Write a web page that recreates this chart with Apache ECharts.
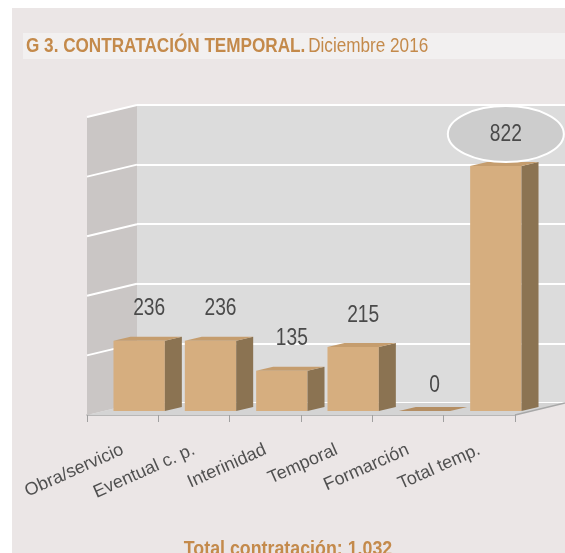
<!DOCTYPE html>
<html>
<head>
<meta charset="utf-8">
<script src="https://cdn.jsdelivr.net/npm/echarts@6/dist/echarts.min.js"></script>
<style>
  html, body { margin: 0; padding: 0; background: #ffffff; }
  #wrap { position: relative; width: 565px; height: 553px; overflow: hidden; }
  #panel { position: absolute; left: 12px; top: 8px; right: 0; bottom: 0; background: #ebe6e6; }
  #chart { position: absolute; left: 0; top: 0; width: 565px; height: 553px; }
</style>
</head>
<body>
<div id="wrap">
  <div id="panel"></div>
  <div id="chart"></div>
</div>
<script>
// datos del gráfico
const categories = ['Obra/servicio', 'Eventual c. p.', 'Interinidad', 'Temporal', 'Formarción', 'Total temp.'];
const values = [236, 236, 135, 215, 0, 822];
const yMax = 1000;
const yStep = 200;
const highlightIndex = 5; // la barra del total lleva la elipse

// profundidad del efecto 3D (px)
const DX = 50, DY = -12;
const T0 = 0.33, T1 = 0.67;

const chart = echarts.init(document.getElementById('chart'));

function renderWalls(params, api) {
    const cs = params.coordSys;
    const L = cs.x, R = cs.x + cs.width;
    const y0 = api.coord([0, 0])[1];
    const yTop = api.coord([0, yMax])[1];
    const children = [];
    // pared izquierda
    children.push({
        type: 'polygon',
        shape: { points: [[L, yTop], [L + DX, yTop + DY], [L + DX, y0 + DY], [L, y0]] },
        style: { fill: '#cac6c5' }
    });
    for (let v = yStep; v <= yMax; v += yStep) {
        const y = api.coord([0, v])[1];
        children.push({
            type: 'line',
            shape: { x1: L, y1: y, x2: L + DX, y2: y + DY },
            style: { stroke: '#ffffff', lineWidth: 2 }
        });
    }
    // suelo
    children.push({
        type: 'polygon',
        shape: { points: [[L, y0], [R, y0], [R + DX, y0 + DY], [L + DX, y0 + DY]] },
        style: { fill: '#d4d4d4' }
    });
    children.push({
        type: 'line',
        shape: { x1: R, y1: y0, x2: R + DX, y2: y0 + DY },
        style: { stroke: '#a8a8a8', lineWidth: 1.5 }
    });
    return { type: 'group', children: children };
}

function renderBar(params, api) {
    const i = api.value(0);
    const v = api.value(1);
    const base = api.coord([i, 0]);
    const top = api.coord([i, v]);
    const band = api.size([1, 0])[0];
    const w = band * 0.72;
    const ox = DX * T0, oy = DY * T0;
    const dx = DX * (T1 - T0), dy = DY * (T1 - T0);
    const x0 = base[0] - w / 2 + ox;
    const x1 = x0 + w;
    const yb = base[1] + oy;
    const yt = top[1] + oy;
    const children = [];
    if (yb - yt > 0.5) {
        children.push({
            type: 'rect',
            shape: { x: x0, y: yt, width: w, height: yb - yt },
            style: { fill: '#d6ae7f' }
        });
        children.push({
            type: 'polygon',
            shape: { points: [[x1, yt], [x1 + dx, yt + dy], [x1 + dx, yb + dy], [x1, yb]] },
            style: { fill: '#8b7352' }
        });
    }
    children.push({
        type: 'polygon',
        shape: { points: [[x0, yt], [x1, yt], [x1 + dx, yt + dy], [x0 + dx, yt + dy]] },
        style: { fill: yb - yt > 0.5 ? '#c59d6e' : '#b48e63' }
    });
    const lx = x0 + w / 2 + 10;
    const ly = yt - (v > 0 ? 32 : 26);
    if (params.dataIndex === highlightIndex) {
        children.push({
            type: 'path',
            shape: {
                pathData: 'M0,1 A1,1 0 1,0 2,1 A1,1 0 1,0 0,1 Z',
                x: lx - 58, y: ly - 28, width: 116, height: 56, layout: 'cover'
            },
            style: { fill: '#cdcdcd', stroke: '#ffffff', lineWidth: 2 }
        });
    }
    children.push({
        type: 'text',
        x: lx, y: ly, scaleX: 0.8,
        style: {
            text: String(v),
            align: 'center', verticalAlign: 'middle',
            fill: '#4a4a4a',
            font: '24px "Liberation Sans", Arial, sans-serif'
        }
    });
    return { type: 'group', children: children };
}

const option = {
    animation: false,
    graphic: [
        {
            type: 'rect', left: 23, top: 33, z: -10,
            shape: { width: 542, height: 26 },
            style: { fill: '#f2f0f0' }
        },
        {
            type: 'text', x: 26, y: 46.5, scaleX: 0.857,
            style: {
                text: '{b|G 3. CONTRATACIÓN TEMPORAL.} {n|Diciembre 2016}',
                verticalAlign: 'middle',
                rich: {
                    b: { fontFamily: 'Liberation Sans', fontWeight: 'bold', fontSize: 20, fill: '#c48a4b' },
                    n: { fontFamily: 'Liberation Sans', fontWeight: 'normal', fontSize: 20, fill: '#c48a4b' }
                }
            }
        },
        {
            type: 'text', x: 288, y: 539, scaleX: 0.89,
            style: {
                text: 'Total contratación: 1.032',
                align: 'center', verticalAlign: 'top',
                fill: '#c48a4b',
                font: 'bold 20px "Liberation Sans", Arial, sans-serif'
            }
        }
    ],
    grid: [
        { left: 87, right: 50, top: 117, bottom: 138 },
        { left: 137, right: 0, top: 105, bottom: 150, show: true, backgroundColor: '#dcdcdc', borderWidth: 0 }
    ],
    xAxis: [
        {
            type: 'category', gridIndex: 0, data: categories, boundaryGap: true,
            axisLine: { lineStyle: { color: '#a8a8a8', width: 1.5 } },
            axisTick: { show: true, length: 7, lineStyle: { color: '#a0a0a0' } },
            axisLabel: {
                interval: 0, rotate: 24, margin: 34,
                fontFamily: 'Liberation Sans', fontSize: 18, color: '#505050'
            },
            splitLine: { show: false }
        },
        { type: 'category', gridIndex: 1, data: categories, show: false }
    ],
    yAxis: [
        { type: 'value', gridIndex: 0, min: 0, max: yMax, interval: yStep, show: false },
        {
            type: 'value', gridIndex: 1, min: 0, max: yMax, interval: yStep,
            axisLine: { show: false }, axisTick: { show: false }, axisLabel: { show: false },
            splitLine: { show: true, lineStyle: { color: '#ffffff', width: 2 } }
        }
    ],
    series: [
        {
            name: 'walls', type: 'custom', xAxisIndex: 0, yAxisIndex: 0,
            z: 1, silent: true,
            renderItem: renderWalls,
            data: [[0, 0]]
        },
        {
            name: 'Contratación temporal', type: 'custom', xAxisIndex: 0, yAxisIndex: 0,
            z: 3,
            renderItem: renderBar,
            data: values.map((v, i) => [i, v])
        }
    ]
};

chart.setOption(option);
window.addEventListener('resize', () => {
    chart.resize();
});
</script>
</body>
</html>
